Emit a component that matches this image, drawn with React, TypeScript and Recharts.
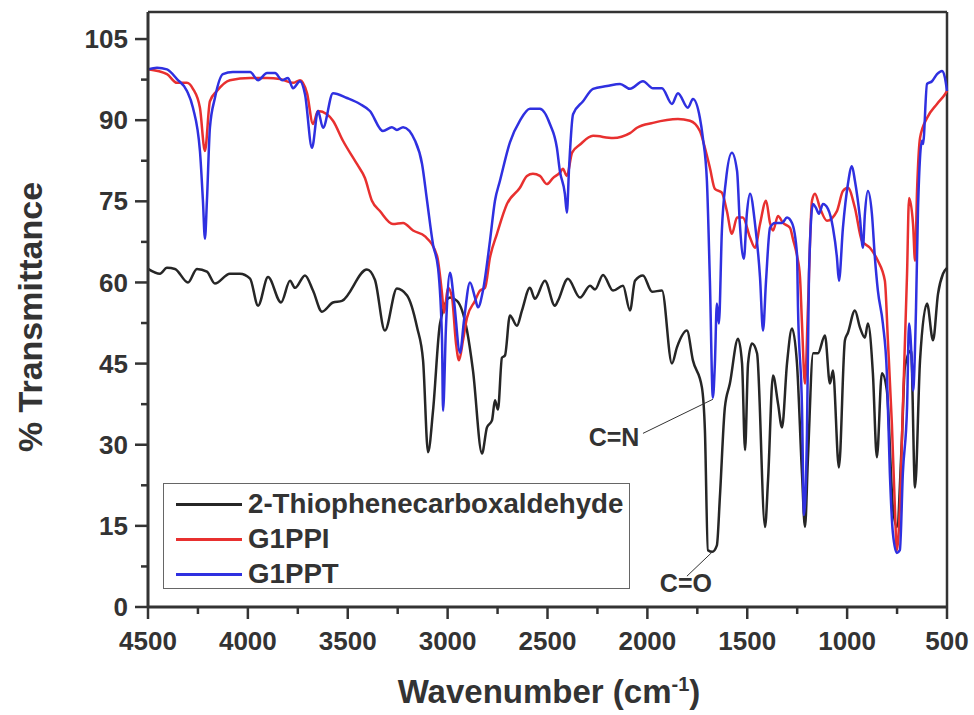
import React from 'react';
import { LineChart, Line, XAxis, YAxis, ReferenceLine, ReferenceDot } from 'recharts';

// FT-IR spectra, [wavenumber (cm-1), %T]
const thiophene: [number, number][] = [
  [4500, 62.5], [4440, 61.6], [4405, 62.7], [4365, 62.5], [4300, 60], [4255, 62.5], [4205, 62], [4165, 59.8],
  [4090, 61.6], [4040, 61.6], [3989, 60.7], [3949, 55.7], [3899, 61], [3834, 56.3], [3789, 60.3], [3764, 59],
  [3714, 61.3], [3674, 58.5], [3629, 54.6], [3574, 56.3], [3529, 56.6], [3404, 62.4], [3364, 60.5], [3314, 51.1],
  [3254, 58.9], [3203, 57.6], [3153, 51.7], [3123, 45.6], [3098, 28.6], [3073, 36.3], [3038, 52.4], [2988, 57.2],
  [2953, 56.6], [2903, 51.1], [2873, 43.7], [2828, 28.4], [2803, 33.2], [2778, 34.5], [2763, 38.2], [2748, 36.5],
  [2728, 46.1], [2713, 46.5], [2688, 53.9], [2653, 52], [2628, 54.8], [2588, 59], [2563, 57], [2513, 60.3],
  [2463, 55.7], [2448, 56.6], [2398, 60.7], [2337, 57.2], [2287, 59.4], [2262, 58.7], [2222, 61.4], [2172, 58.5],
  [2122, 59.4], [2087, 54.8], [2062, 60.3], [2022, 61.3], [1977, 58.3], [1927, 58.5], [1877, 45], [1852, 48],
  [1802, 51.1], [1772, 45.6], [1727, 40.6], [1712, 32.7], [1697, 10.5], [1675, 10.2], [1652, 11.4], [1637, 20.3],
  [1612, 36.9], [1587, 41.3], [1546, 49.6], [1526, 45], [1511, 29], [1496, 45], [1476, 48.7], [1451, 46.9],
  [1411, 14.8], [1396, 23.4], [1371, 42.8], [1346, 37.6], [1326, 33.2], [1301, 45], [1276, 51.5], [1251, 45],
  [1226, 24.7], [1211, 14.8], [1196, 27.7], [1170, 46.9], [1146, 46.9], [1111, 50.2], [1086, 41.3], [1071, 43.7],
  [1041, 25.8], [1011, 49.3], [996, 50.7], [961, 54.8], [936, 51.7], [911, 49.8], [896, 52.4], [871, 43.2],
  [851, 27.7], [826, 43.2], [801, 40], [771, 18.5], [751, 14.8], [726, 30.8], [711, 44.3], [680, 47.4],
  [660, 22.1], [635, 45.6], [600, 56.1], [570, 49.3], [545, 57.9], [520, 61.6], [500, 62.7],
];

const g1ppi: [number, number][] = [
  [4500, 99.4], [4405, 98.5], [4355, 96.9], [4305, 96.9], [4275, 95.8], [4240, 92.3], [4215, 84.3], [4190, 93.5],
  [4155, 95.4], [4090, 97.4], [3989, 97.8], [3904, 97.8], [3839, 97.6], [3774, 96.9], [3739, 97.4], [3704, 95],
  [3674, 89.3], [3649, 91.7], [3604, 91.1], [3574, 89.9], [3524, 86.2], [3454, 81.9], [3414, 79.3], [3379, 75.1],
  [3339, 73.2], [3274, 70.8], [3223, 71], [3173, 69.6], [3113, 68.5], [3053, 64.9], [3028, 57.9], [3018, 54.4],
  [2998, 59], [2978, 57.2], [2958, 48.7], [2943, 45.6], [2923, 49.3], [2903, 53.5], [2863, 56.6], [2838, 58.5],
  [2813, 59], [2788, 64.6], [2753, 69], [2703, 74.5], [2638, 77.5], [2603, 79.7], [2573, 80.1], [2538, 79.7],
  [2503, 78.2], [2473, 79.3], [2438, 80.3], [2423, 81], [2403, 79.7], [2377, 84], [2337, 85.5], [2272, 87.1],
  [2172, 86.7], [2087, 87.6], [2052, 88.6], [1972, 89.5], [1847, 90.2], [1787, 89.9], [1737, 88], [1712, 84.9],
  [1687, 81.2], [1662, 77.3], [1627, 76.6], [1602, 73.2], [1577, 69], [1551, 72], [1522, 72], [1486, 68.3],
  [1461, 66.4], [1436, 70.8], [1406, 75.1], [1386, 71], [1371, 69.6], [1346, 72.3], [1321, 71], [1286, 70.1],
  [1271, 68], [1251, 65], [1236, 61], [1226, 52.4], [1211, 41.3], [1196, 55.4], [1176, 75.1], [1161, 76.4],
  [1136, 73.8], [1101, 71.4], [1051, 73.2], [1021, 76.9], [996, 77.5], [961, 73.8], [926, 67.7], [886, 66.4],
  [846, 64], [811, 60.3], [796, 49.3], [776, 33.9], [761, 18.5], [751, 10.5], [736, 18.5], [721, 36.9],
  [700, 61.6], [690, 75.6], [670, 70.8], [660, 64], [650, 76.9], [635, 86.7], [600, 90.4], [550, 93],
  [510, 94.8], [500, 95.4],
];

const g1ppt: [number, number][] = [
  [4500, 99.4], [4455, 99.7], [4405, 99.4], [4355, 97.6], [4305, 95.4], [4275, 92.3], [4240, 84.3], [4225, 75.1],
  [4215, 68.1], [4205, 75.1], [4190, 88.6], [4165, 94.1], [4125, 98.5], [4075, 98.9], [3989, 98.9], [3949, 97.4],
  [3904, 98.7], [3864, 98.7], [3829, 97.4], [3799, 97.8], [3774, 95.9], [3739, 97.2], [3714, 94.8], [3679, 84.9],
  [3649, 91.7], [3624, 88.6], [3574, 95], [3504, 94.1], [3439, 93], [3389, 91.7], [3324, 88], [3279, 88.7],
  [3254, 88.2], [3223, 88.7], [3163, 86.2], [3128, 81.9], [3103, 75.1], [3073, 67], [3048, 62.7], [3028, 49.3],
  [3023, 36.3], [3008, 52], [2988, 61.8], [2968, 56.6], [2938, 47], [2918, 53], [2888, 60], [2863, 57.2],
  [2848, 55.4], [2823, 58.5], [2788, 67.7], [2763, 75.1], [2738, 78.8], [2688, 85.9], [2638, 89.9], [2588, 92.1],
  [2538, 92.1], [2488, 89.3], [2453, 84.9], [2438, 80.6], [2413, 76.4], [2403, 72.9], [2392, 81.2], [2372, 91.1],
  [2322, 93.5], [2272, 95.8], [2202, 96.3], [2137, 96.7], [2087, 95.8], [2022, 97.2], [1972, 95.9], [1927, 95.9],
  [1877, 93], [1847, 95], [1797, 92.3], [1772, 93.9], [1737, 90.4], [1722, 86.7], [1702, 78.8], [1687, 60.3],
  [1672, 38.7], [1662, 45], [1652, 56.1], [1642, 52.4], [1627, 69.6], [1607, 78.8], [1577, 84], [1551, 80.6],
  [1537, 70.8], [1517, 64.4], [1502, 72.7], [1486, 76.4], [1461, 70.8], [1436, 60.9], [1421, 51.1], [1406, 60.3],
  [1386, 70.1], [1361, 71], [1326, 71], [1301, 72], [1276, 71], [1251, 65.3], [1246, 55.4], [1226, 36.9],
  [1216, 17], [1201, 32.1], [1191, 61.6], [1171, 74.5], [1156, 73.8], [1141, 72.7], [1121, 74.5], [1096, 73.6],
  [1071, 70.1], [1051, 64.6], [1041, 60.3], [1021, 70.1], [996, 78.2], [976, 81.5], [961, 78.8], [936, 72],
  [921, 66.4], [911, 72.7], [896, 76.9], [876, 72.7], [861, 64.6], [846, 58.5], [821, 52.4], [801, 43.2],
  [786, 24.7], [771, 13.7], [751, 10], [736, 10.5], [721, 24.7], [700, 36.9], [690, 52.4], [675, 44.3],
  [670, 40], [655, 55.4], [645, 73.8], [625, 86.2], [620, 85.6], [600, 96.7], [575, 97.2], [550, 98.5],
  [525, 99.1], [510, 97.8], [500, 95.4],
];

const xTicks = [4500, 4250, 4000, 3750, 3500, 3250, 3000, 2750, 2500, 2250, 2000, 1750, 1500, 1250, 1000, 750, 500];
const yTicks = [0, 7.5, 15, 22.5, 30, 37.5, 45, 52.5, 60, 67.5, 75, 82.5, 90, 97.5, 105];

const series = [
  { name: '2-Thiophenecarboxaldehyde', data: thiophene, color: '#262626' },
  { name: 'G1PPI', data: g1ppi, color: '#e8302f' },
  { name: 'G1PPT', data: g1ppt, color: '#2f30e0' },
];

const AXIS = '#333';
const FONT = '"Liberation Sans", Arial, sans-serif';

const toRows = (pts: [number, number][]) => pts.map(([wn, t]) => ({ wn, t }));

const XTick = (props: any) => {
  const { x, y, payload } = props;
  const major = payload.value % 500 === 0;
  return (
    <g>
      <line x1={x} y1={y} x2={x} y2={y + (major ? 12 : 7)} stroke={AXIS} strokeWidth={2.5} />
      {major && (
        <text x={x} y={y + 43} textAnchor="middle" fill={AXIS} fontSize={26} fontWeight="bold" fontFamily={FONT}>
          {payload.value}
        </text>
      )}
    </g>
  );
};

const YTick = (props: any) => {
  const { x, y, payload } = props;
  const major = payload.value % 15 === 0;
  return (
    <g>
      <line x1={x - (major ? 13 : 7)} y1={y} x2={x} y2={y} stroke={AXIS} strokeWidth={2.5} />
      {major && (
        <text x={x - 20} y={y} dy="0.35em" textAnchor="end" fill={AXIS} fontSize={26} fontWeight="bold" fontFamily={FONT}>
          {payload.value}
        </text>
      )}
    </g>
  );
};

export default function App() {
  return (
    <div style={{ position: 'absolute', left: 0, top: 0, width: 974, height: 715, background: '#fff', fontFamily: FONT }}>
      <LineChart width={974} height={715} margin={{ top: 12, right: 27, bottom: 58, left: 28 }}>
        <XAxis
          dataKey="wn"
          type="number"
          domain={[500, 4500]}
          reversed
          ticks={xTicks}
          interval={0}
          allowDuplicatedCategory={false}
          tick={<XTick />}
          tickLine={false}
          tickSize={0}
          tickMargin={0}
          height={50}
          axisLine={{ stroke: AXIS, strokeWidth: 3 }}
        />
        <YAxis
          dataKey="t"
          type="number"
          domain={[0, 110]}
          ticks={yTicks}
          interval={0}
          tick={<YTick />}
          tickLine={false}
          tickSize={0}
          tickMargin={0}
          width={120}
          axisLine={{ stroke: AXIS, strokeWidth: 3 }}
        />
        <ReferenceLine y={110} stroke={AXIS} strokeWidth={2.5} />
        <ReferenceLine x={500} stroke={AXIS} strokeWidth={2.5} />
        {series.map((s) => (
          <Line
            key={s.name}
            data={toRows(s.data)}
            dataKey="t"
            name={s.name}
            type="monotone"
            stroke={s.color}
            strokeWidth={2.5}
            dot={false}
            activeDot={false}
            isAnimationActive={false}
          />
        ))}
        <ReferenceLine segment={[{ x: 2022, y: 32.1 }, { x: 1672, y: 38.4 }]} stroke={AXIS} strokeWidth={1} />
        <ReferenceLine segment={[{ x: 1802, y: 5.7 }, { x: 1677, y: 10.1 }]} stroke={AXIS} strokeWidth={1} />
        <ReferenceDot x={2167} y={31.4} r={0} fill="none" stroke="none"
          label={{ value: 'C=N', position: 'center', fill: AXIS, fontSize: 25, fontWeight: 'bold', fontFamily: FONT }} />
        <ReferenceDot x={1807} y={4.4} r={0} fill="none" stroke="none"
          label={{ value: 'C=O', position: 'center', fill: AXIS, fontSize: 25, fontWeight: 'bold', fontFamily: FONT }} />
      </LineChart>

      {/* legend box */}
      <div style={{ position: 'absolute', left: 163, top: 483, width: 467, height: 106, border: '1.5px solid #666', background: '#fff', boxSizing: 'border-box' }}>
        {series.map((s, i) => (
          <div key={s.name} style={{ position: 'absolute', left: 12, top: 4 + i * 35, height: 32, display: 'flex', alignItems: 'center' }}>
            <div style={{ width: 66, height: 3, background: s.color, marginRight: 6 }} />
            <span style={{ fontSize: 27.7, fontWeight: 'bold', color: AXIS, whiteSpace: 'nowrap' }}>{s.name}</span>
          </div>
        ))}
      </div>

      {/* axis titles */}
      <div style={{ position: 'absolute', left: 30, top: 317, transform: 'translate(-50%, -50%) rotate(-90deg)', fontSize: 34, fontWeight: 'bold', color: AXIS, whiteSpace: 'nowrap' }}>
        % Transmittance
      </div>
      <div style={{ position: 'absolute', left: 549, top: 692, transform: 'translate(-50%, -50%)', fontSize: 33, fontWeight: 'bold', color: AXIS, whiteSpace: 'nowrap' }}>
        Wavenumber (cm<sup style={{ fontSize: 20 }}>-1</sup>)
      </div>
    </div>
  );
}
